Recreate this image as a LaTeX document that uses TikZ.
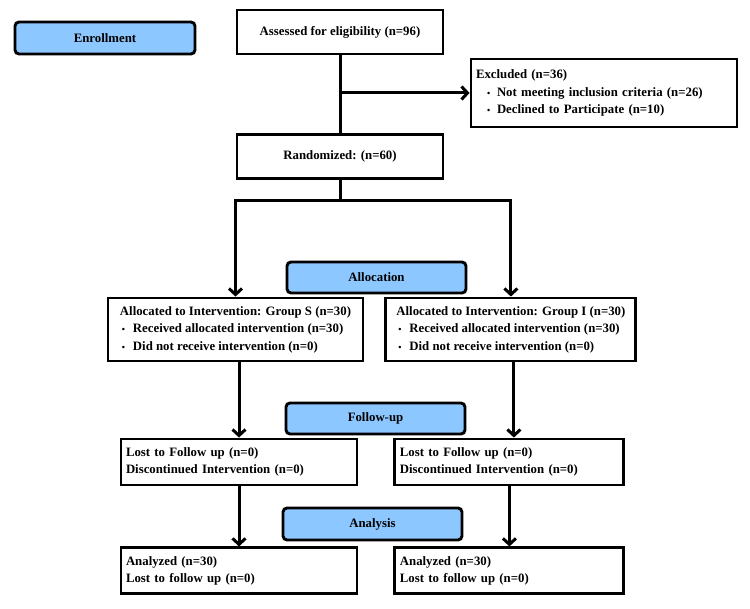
\documentclass[tikz,border=0pt]{standalone}
\usepackage{fontspec}
\setmainfont{Liberation Serif}
\usepackage{xcolor}
\usepackage{tikz}
\usetikzlibrary{positioning, arrows.meta}
\definecolor{etapaazul}{RGB}{140,200,255}
\newcommand{\itemX}{\hspace*{11pt}\makebox[10pt][l]{\fontsize{9}{9}\selectfont\textbullet}}
\newcommand{\itemG}{\hspace*{2pt}\makebox[11pt][l]{\fontsize{9}{9}\selectfont\textbullet}}

\begin{document}
\begin{tikzpicture}[x=1pt, y=1pt,
  caja/.style={draw=black, line width=2.9pt, fill=white, align=center,
               font=\fontsize{12.8}{17.5}\selectfont\bfseries, inner sep=5pt},
  etapa/.style={caja, fill=etapaazul, rounded corners=4pt, minimum width=179pt, minimum height=32pt},
  fl/.style={-{Straight Barb[length=6pt, width=13pt]}, line width=3pt},
  ln/.style={line width=3pt},
  node distance=20pt and 20pt]
\useasboundingbox (0,0) rectangle (750,-609);
\node[etapa, minimum width=180pt] (enroll) at (105,-38) {Enrollment};
\node[caja, minimum width=206pt, minimum height=44pt] (assess) at (340,-32) {Assessed for eligibility (n=96)};
\node[caja, minimum width=206pt, minimum height=44pt, below=78pt of assess] (rand) {Randomized: (n=60)};
\node[caja, align=left, text width=256pt, minimum height=68pt] (excl) at (604,-93)
  {Excluded (n=36)\\ \itemX Not meeting inclusion criteria (n=26)\\ \itemX Declined to Participate (n=10)};
\node[etapa, minimum height=31pt] (alloc) at (376.5,-277.5) {Allocation};
\node[caja, align=left, minimum width=255pt, minimum height=63pt] (grpS) at (235.5,-329.5)
  {Allocated to Intervention: Group S (n=30)\\ \itemG Received allocated intervention (n=30)\\ \itemG Did not receive intervention (n=0)};
\node[caja, align=left, minimum width=250pt, minimum height=63pt, right=20pt of grpS] (grpI)
  {Allocated to Intervention: Group I (n=30)\\ \itemG Received allocated intervention (n=30)\\ \itemG Did not receive intervention (n=0)};
\node[etapa, minimum height=31pt] (follow) at (375.5,-418.5) {Follow-up};
\node[caja, align=left, text width=226pt, minimum height=46pt] (lostS) at (239,-462)
  {Lost to Follow up (n=0)\\Discontinued Intervention (n=0)};
\node[caja, align=left, text width=219pt, minimum height=46pt, right=35pt of lostS] (lostI)
  {Lost to Follow up (n=0)\\Discontinued Intervention (n=0)};
\node[etapa] (analysis) at (372.5,-524) {Analysis};
\node[caja, align=left, text width=226pt, minimum height=46pt, below=60pt of lostS] (anaS)
  {Analyzed (n=30)\\Lost to follow up (n=0)};
\node[caja, align=left, text width=219pt, minimum height=46pt, below=60pt of lostI] (anaI)
  {Analyzed (n=30)\\Lost to follow up (n=0)};
\coordinate (split) at ([yshift=-20pt]rand.south);
\draw[ln] (assess) -- (rand);
\draw[fl] (assess.south |- excl.west) -- (excl.west);
\draw[ln] (rand) -- (split);
\draw[fl] (split) -| (grpS.north);
\draw[fl] (split) -| (grpI.north);
\draw[fl] (grpS.south -| lostS.north) -- (lostS.north);
\draw[fl] ([xshift=3pt]grpI.south) -- ([xshift=3pt]grpI.south |- lostI.north);
\draw[fl] (lostS) -- (anaS);
\draw[fl] (lostI) -- (anaI);
\end{tikzpicture}
\end{document}
